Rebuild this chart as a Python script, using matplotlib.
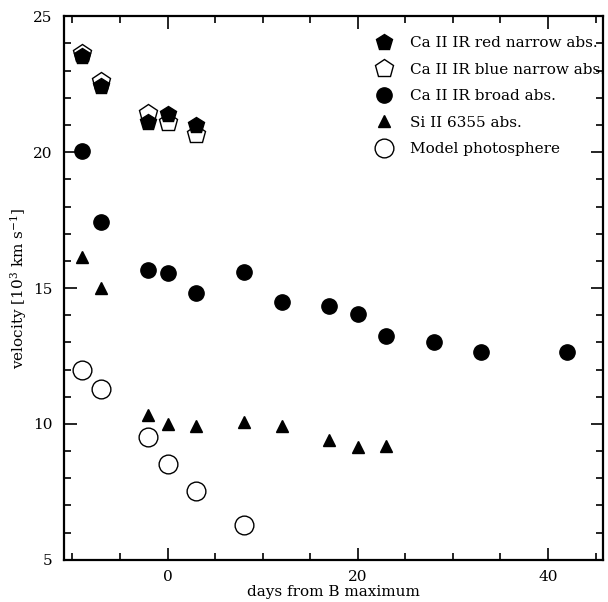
import matplotlib
matplotlib.use("Agg")
import matplotlib.pyplot as plt
from matplotlib.ticker import MultipleLocator

plt.rcParams['font.family'] = ['DejaVu Serif']
plt.rcParams['mathtext.fontset'] = 'dejavuserif'

# Ca II IR narrow components (red and blue)
narrow_days = [-9, -7, -2, 0, 3]
ca_red_narrow = [23.53, 22.43, 21.12, 21.42, 20.99]
ca_blue_narrow = [23.63, 22.60, 21.45, 21.12, 20.66]

# Ca II IR broad absorption
broad_days = [-9, -7, -2, 0, 3, 8, 12, 17, 20, 23, 28, 33, 42]
ca_broad = [20.05, 17.42, 15.67, 15.57, 14.80, 15.60, 14.50, 14.35, 14.05, 13.22, 13.02, 12.66, 12.66]

# Si II 6355
si_days = [-9, -7, -2, 0, 3, 8, 12, 17, 20, 23]
si_6355 = [16.13, 15.01, 10.33, 10.00, 9.94, 10.08, 9.93, 9.41, 9.17, 9.19]

# model photospheric velocity
phot_days = [-9, -7, -2, 0, 3, 8]
model_phot = [12.0, 11.27, 9.52, 8.52, 7.52, 6.28]

fig = plt.figure(figsize=(6.08, 6.02), dpi=100)
ax = fig.add_axes([0.105, 0.070, 0.887, 0.903])

ax.plot(narrow_days, ca_blue_narrow, ls='none', marker='p', ms=13.5, mfc='white',
        mec='black', mew=1.0, label='Ca II IR blue narrow abs.', zorder=3)
ax.plot(narrow_days, ca_red_narrow, ls='none', marker='p', ms=12, mfc='black',
        mec='black', label='Ca II IR red narrow abs.', zorder=4)
ax.plot(broad_days, ca_broad, ls='none', marker='o', ms=11, mfc='black',
        mec='black', label='Ca II IR broad abs.', zorder=3)
ax.plot(si_days, si_6355, ls='none', marker='^', ms=9, mfc='black',
        mec='black', label='Si II 6355 abs.', zorder=3)
ax.plot(phot_days, model_phot, ls='none', marker='o', ms=13.5, mfc='white',
        mec='black', mew=1.0, label='Model photosphere', zorder=3)

ax.set_xlim(-10.9, 45.8)
ax.set_ylim(5, 25)
ax.xaxis.set_major_locator(MultipleLocator(20))
ax.xaxis.set_minor_locator(MultipleLocator(5))
ax.yaxis.set_major_locator(MultipleLocator(5))
ax.yaxis.set_minor_locator(MultipleLocator(1))
ax.tick_params(which='both', direction='in', top=True, right=True, labelsize=11, width=1.2)
ax.tick_params(which='major', length=9)
ax.tick_params(axis='x', which='major', pad=7)
ax.tick_params(axis='y', which='major', pad=8)
ax.tick_params(which='minor', length=5)
for sp in ax.spines.values():
    sp.set_linewidth(1.6)

ax.set_xlabel('days from B maximum', fontsize=11, labelpad=1)
ax.set_ylabel(r'velocity [10$^3$ km s$^{-1}$]', fontsize=11, labelpad=3)

handles, labels = ax.get_legend_handles_labels()
order = [1, 0, 2, 3, 4]
ax.legend([handles[i] for i in order], [labels[i] for i in order],
          loc='upper right', bbox_to_anchor=(1.04, 1.0), frameon=False,
          fontsize=11, handletextpad=1.1, labelspacing=0.82,
          borderaxespad=0.9, handlelength=1.2)

fig.savefig('out.png', dpi=100)
